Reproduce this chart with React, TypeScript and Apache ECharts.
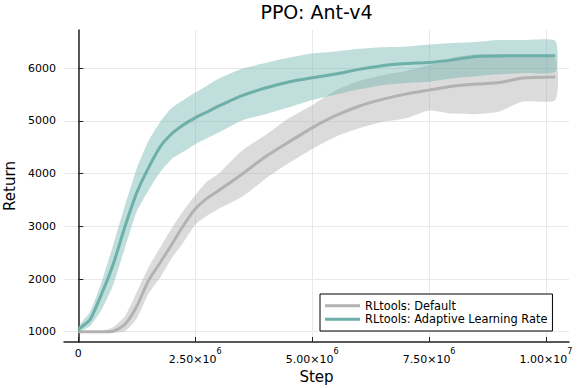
import React, { useEffect, useRef } from "react";
import * as echarts from "echarts";

// Step values (environment steps)
const steps = [0, 0.25e6, 0.5e6, 0.75e6, 1.0e6, 1.25e6, 1.5e6, 1.75e6, 2.0e6, 2.25e6, 2.5e6, 2.75e6, 3.0e6, 3.5e6, 4.0e6, 4.5e6, 5.0e6, 5.5e6, 6.0e6, 6.5e6, 7.0e6, 7.5e6, 8.0e6, 8.5e6, 9.0e6, 9.5e6, 10.2e6];

// RLtools: Default
const defaultMean = [1000, 1000, 1000, 1010, 1140, 1480, 1970, 2310, 2660, 3020, 3330, 3530, 3680, 3990, 4320, 4600, 4870, 5100, 5280, 5410, 5510, 5586, 5660, 5700, 5730, 5815, 5833];
const defaultUpper = [1000, 1005, 1010, 1090, 1300, 1750, 2220, 2600, 2970, 3300, 3590, 3850, 4000, 4440, 4730, 5050, 5300, 5580, 5760, 5870, 5950, 6061, 6200, 6265, 6270, 6230, 6188];
const defaultLower = [995, 990, 985, 985, 1010, 1250, 1720, 2030, 2400, 2700, 3030, 3200, 3330, 3560, 3900, 4200, 4470, 4700, 4860, 4980, 5050, 5200, 5140, 5130, 5180, 5370, 5397];

// RLtools: Adaptive Learning Rate
const adaptiveMean = [1045, 1230, 1720, 2290, 3000, 3640, 4110, 4510, 4760, 4930, 5060, 5170, 5280, 5480, 5625, 5740, 5820, 5890, 5980, 6050, 6090, 6111, 6160, 6225, 6235, 6237, 6237];
const adaptiveUpper = [1095, 1380, 1950, 2660, 3400, 4100, 4620, 4980, 5250, 5400, 5540, 5670, 5800, 5990, 6100, 6200, 6280, 6320, 6370, 6400, 6410, 6450, 6480, 6500, 6535, 6535, 6520];
const adaptiveLower = [1000, 1110, 1420, 1900, 2600, 3280, 3680, 4030, 4280, 4420, 4560, 4670, 4780, 5010, 5130, 5260, 5400, 5500, 5600, 5680, 5720, 5744, 5810, 5850, 5885, 5910, 5934];

const seriesNames = ["RLtools: Default", "RLtools: Adaptive Learning Rate"];

// Tick labels
const xTickValues = [0, 2.5e6, 5e6, 7.5e6, 1e7];
const xTickMantissa = ["0", "2.50", "5.00", "7.50", "1.00"];
const xTickExponent = ["", "6", "6", "6", "7"];
const yTickValues = [1000, 2000, 3000, 4000, 5000, 6000];
const yTickLabels = ["1000", "2000", "3000", "4000", "5000", "6000"];

const FONT = "DejaVu Sans";

function bandSeries(name: string, lower: number[], upper: number[], color: string, z: number) {
  return {
    type: "custom",
    name,
    z,
    silent: true,
    data: steps.map((s, i) => [s, lower[i], upper[i]]),
    encode: { x: 0, y: [1, 2] },
    renderItem: (params: any, api: any) => {
      if (params.dataIndex !== 0) return null;
      const top = steps.map((s, i) => api.coord([s, upper[i]]));
      const bot = steps.map((s, i) => api.coord([s, lower[i]])).reverse();
      return {
        type: "polygon",
        shape: { points: [...top, ...bot], smooth: 0.2 },
        style: { fill: color },
      };
    },
  };
}

function lineSeries(name: string, mean: number[], color: string, z: number) {
  return {
    type: "line",
    name,
    z,
    data: steps.map((s, i) => [s, mean[i]]),
    symbol: "none",
    smooth: 0.2,
    lineStyle: { color, width: 3 },
    itemStyle: { color },
  };
}

export default function App() {
  const ref = useRef<HTMLDivElement>(null);
  useEffect(() => {
    if (!ref.current) return;
    const chart = echarts.init(ref.current, undefined, { renderer: "svg" });
    const gray = "#b2b2b2";
    const teal = "#6db0a9";
    chart.setOption({
      animation: false,
      textStyle: { fontFamily: FONT },
      grid: { left: 64, right: 12, top: 30, bottom: 46, containLabel: false, outerBoundsMode: "none" },
      graphic: [
        {
          type: "text",
          x: 316.5,
          y: 11.5,
          style: {
            text: "PPO: Ant-v4",
            fontFamily: FONT,
            fontSize: 19,
            fill: "#000",
            align: "center",
            verticalAlign: "middle",
          },
        },
      ],
      legend: {
        data: seriesNames.map((n) => ({ name: n, icon: "rect" })),
        orient: "vertical",
        left: 320,
        top: 294,
        padding: [5, 5, 5, 5],
        itemWidth: 35,
        itemHeight: 3,
        itemGap: 0,
        borderColor: "#000",
        borderWidth: 1,
        borderRadius: 0,
        backgroundColor: "#fff",
        selectedMode: false,
        textStyle: { fontFamily: FONT, fontSize: 11.4, color: "#000", lineHeight: 13.5 },
      },
      xAxis: {
        type: "value",
        min: -305800,
        max: 10492000,
        name: "Step",
        nameLocation: "middle",
        nameGap: 26,
        nameTextStyle: { fontFamily: FONT, fontSize: 15, color: "#000" },
        axisLine: { show: true, lineStyle: { color: "#222", width: 1.5 } },
        axisTick: { show: true, inside: true, length: 5, customValues: xTickValues, lineStyle: { color: "#222", width: 1 } },
        splitLine: { show: true, lineStyle: { color: "#e9e9e9", width: 1 } },
        axisLabel: {
          customValues: xTickValues,
          margin: 5,
          color: "#000",
          formatter: (v: number) => {
            const i = xTickValues.indexOf(v);
            if (i < 0) return "";
            if (!xTickExponent[i]) return `{z|${xTickMantissa[i]}}`;
            return `{a|${xTickMantissa[i]}×10}{s|${xTickExponent[i]}}`;
          },
          rich: {
            z: { fontFamily: FONT, fontSize: 11, color: "#000", lineHeight: 13 },
            a: { fontFamily: FONT, fontSize: 11, color: "#000", lineHeight: 18, verticalAlign: "bottom" },
            s: { fontFamily: FONT, fontSize: 8, color: "#000", lineHeight: 18, verticalAlign: "top" },
          },
        },
      },
      yAxis: {
        type: "value",
        min: 804.5,
        max: 6727,
        name: "Return",
        nameLocation: "middle",
        nameRotate: 90,
        nameGap: 45,
        nameTextStyle: { fontFamily: FONT, fontSize: 15, color: "#000" },
        axisLine: { show: true, lineStyle: { color: "#222", width: 1.5 } },
        axisTick: { show: true, inside: true, length: 5, customValues: yTickValues, lineStyle: { color: "#222", width: 1 } },
        splitLine: { show: true, lineStyle: { color: "#e9e9e9", width: 1 } },
        axisLabel: {
          customValues: yTickValues,
          margin: 8,
          color: "#000",
          fontFamily: FONT,
          fontSize: 11,
          formatter: (v: number) => {
            const i = yTickValues.indexOf(v);
            return i < 0 ? "" : yTickLabels[i];
          },
        },
      },
      series: [
        bandSeries("Default band", defaultLower, defaultUpper, "rgba(170,170,170,0.42)", 2),
        lineSeries(seriesNames[0], defaultMean, gray, 3),
        bandSeries("Adaptive band", adaptiveLower, adaptiveUpper, "rgba(106,176,170,0.42)", 4),
        lineSeries(seriesNames[1], adaptiveMean, teal, 5),
      ],
    });
    return () => chart.dispose();
  }, []);
  return <div ref={ref} style={{ width: 581, height: 388, position: "absolute", left: 0, top: 0 }} />;
}
